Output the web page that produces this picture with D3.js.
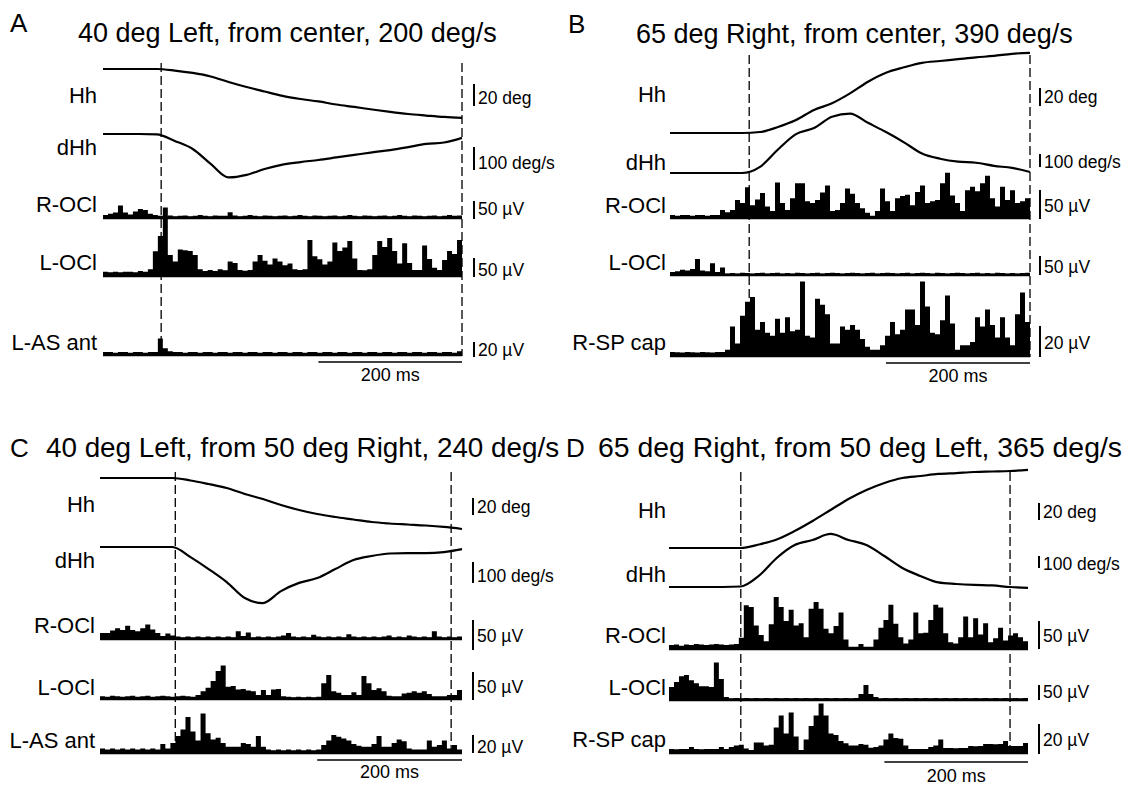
<!DOCTYPE html>
<html>
<head>
<meta charset="utf-8">
<script src="https://cdn.jsdelivr.net/npm/d3@7"></script>
<style>
  body { margin: 0; background: #fff; }
  text { font-family: "Liberation Sans", Arial, Helvetica, sans-serif; fill: #000; }
</style>
</head>
<body>
<svg id="chart" width="1134" height="787"></svg>
<script>
// sample times of the head traces (ms)
var headTimes = [0, 25, 50, 75, 100, 125, 150, 175, 200, 225, 250, 275, 300, 325, 350, 375, 400, 425, 450, 475, 500];

var panelLetters = ["A", "B", "C", "D"];
var panelTitles = [
    "40 deg Left, from center, 200 deg/s",
    "65 deg Right, from center, 390 deg/s",
    "40 deg Left, from 50 deg Right, 240 deg/s",
    "65 deg Right, from 50 deg Left, 365 deg/s"
];
var rowLabels = [
    ["Hh", "dHh", "R-OCl", "L-OCl", "L-AS ant"],
    ["Hh", "dHh", "R-OCl", "L-OCl", "R-SP cap"],
    ["Hh", "dHh", "R-OCl", "L-OCl", "L-AS ant"],
    ["Hh", "dHh", "R-OCl", "L-OCl", "R-SP cap"]
];
var scaleValues = [20, 100, 50, 50, 20];
var scaleUnits = ["20 deg", "100 deg/s", "50 \u00b5V", "50 \u00b5V", "20 \u00b5V"];
var timeBarMs = [300, 500];
var timeBarLabel = "200 ms";

// movement onset / end markers (ms)
var onsetMs = [81, 110, 104, 100];
var offsetMs = [500, 500, 485, 475];

// head position (deg) and velocity (deg/s)
var hhA = [0, 0, 0, 0, -1.4, -3.6, -6.8, -11.8, -16.4, -20.5, -24.5, -27.3, -29.5, -32.3, -34.5, -36.8, -39, -40.9, -42.3, -43.6, -44.5];
var dhhA = [0, 0, 0, -2, -30, -65, -130, -189, -178, -152, -133, -122, -113, -102, -91, -80, -70, -57, -43, -37, -17];
var hhB = [0, 0, 0, 0, 0, 1.1, 6.7, 14.4, 25.6, 33, 44, 57, 67, 73, 78, 80, 82, 84, 85.6, 88, 89];
var dhhB = [0, 0, 0, 0, 0, 47, 181, 299, 346, 433, 457, 386, 315, 236, 150, 110, 87, 79, 55, 39, 8];
var hhC = [0, 0, 0, 0, 0, -2.9, -7.1, -11.8, -18.8, -24.7, -31.8, -37.6, -42.4, -45.9, -48.8, -51.8, -53.5, -54.7, -55.9, -57.6, -60];
var dhhC = [0, 0, 0, 0, 0, -48, -105, -167, -243, -267, -210, -171, -148, -105, -62, -43, -31, -29, -29, -24, -10];
var hhD = [0, 0, 0, 0, 0, 4.1, 10, 20, 31.8, 44.7, 57.6, 68.2, 76.5, 82.4, 84.7, 87.1, 88.2, 89.4, 90, 90.6, 91.8];
var dhhD = [0, 0, 0, 0, 4, 92, 242, 350, 392, 442, 392, 350, 258, 158, 92, 38, 25, 17, 13, 0, -8];

// rectified EMG, bins over 0-500 ms (uV)
var rOclA = [8, 12, 15, 35, 15, 10, 18, 25, 22, 12, 8, 6,
    5, 7, 5, 6, 7, 5, 6, 8, 6, 5, 7, 6, 6, 16, 7, 5, 6, 8,
    6, 5, 7, 6, 5, 6, 7, 5, 6, 8, 6, 5, 7, 6, 5, 6, 7, 5,
    6, 8, 6, 5, 7, 6, 5, 6, 7, 5, 6, 8, 6, 5, 7, 6, 5, 6,
    7, 5, 6, 8, 6, 7];
var lOclA = [11, 10, 11, 10, 11, 11, 10, 13, 11, 18,
    65, 105, 180, 55, 38, 70, 68, 66, 55, 18,
    13, 16, 13, 18, 15, 38, 34, 16, 14, 16,
    38, 55, 40, 30, 46, 38, 28, 33, 18, 16,
    18, 95, 52, 44, 30, 38, 88, 66, 75, 92,
    46, 16, 15, 18, 55, 92, 76, 100, 66, 33,
    86, 34, 16, 16, 80, 45, 22, 16, 42, 66,
    58, 95];
var lAsA = [4, 4, 3, 4, 4, 3, 4, 4, 3, 4, 4, 22,
    9, 5, 4, 4, 3, 4, 4, 3, 4, 4, 3, 4,
    4, 3, 4, 4, 3, 4, 4, 3, 4, 4, 3, 4,
    4, 3, 4, 4, 3, 4, 4, 3, 4, 4, 3, 4,
    4, 3, 4, 4, 3, 4, 4, 3, 4, 4, 3, 4,
    4, 3, 4, 4, 3, 4, 4, 3, 4, 4, 3, 5];

var rOclB = [5, 4, 5, 5, 4, 5, 5, 4, 5, 5,
    14, 10, 14, 31, 26, 53, 22, 32, 43, 20,
    12, 61, 26, 14, 34, 60, 60, 29, 26, 31,
    44, 56, 12, 14, 26, 51, 42, 26, 17, 9,
    4, 12, 51, 29, 12, 34, 38, 40, 22, 45,
    56, 26, 29, 31, 60, 78, 39, 26, 12, 48,
    54, 46, 60, 73, 34, 20, 54, 31, 48, 26,
    29, 34];
var lOclB = [8, 10, 14, 12, 16, 42, 12, 10, 31, 8,
    20, 4, 5, 4, 6, 5, 4, 5, 6, 4,
    5, 6, 4, 5, 4, 6, 5, 4, 5, 6,
    4, 5, 6, 5, 4, 5, 6, 5, 4, 5,
    6, 4, 5, 6, 5, 4, 5, 6, 4, 5,
    6, 5, 4, 6, 5, 4, 5, 6, 5, 4,
    5, 6, 4, 5, 4, 6, 5, 4, 5, 4,
    5, 6];
var rSpB = [2.6, 2.5, 2.2, 2.6, 2.4, 2.2, 2.6, 2.5, 2.3, 2.6,
    2.6, 4, 19, 8, 26, 35, 38, 17, 22, 15,
    13, 24, 15, 25, 16, 17, 48, 13, 12, 37,
    33, 27, 8, 8, 19, 17, 20, 17, 11, 6,
    4, 4, 7, 13, 22, 14, 17, 30, 30, 20,
    48, 32, 15, 14, 23, 39, 21, 4, 7, 7,
    9, 25, 19, 30, 20, 12, 25, 12, 7, 27,
    41, 22];

var rOclC = [10, 10, 14, 18, 15, 22, 15, 13, 18, 24,
    16, 10, 5, 9, 6, 4, 3, 4, 3, 4,
    3, 4, 3, 4, 3, 4, 3, 13, 5, 11,
    3, 4, 3, 4, 3, 4, 6, 10, 4, 3,
    4, 3, 7, 4, 3, 4, 3, 4, 3, 8,
    4, 3, 4, 3, 4, 3, 4, 6, 3, 4,
    3, 6, 4, 3, 4, 3, 13, 4, 3, 4,
    3, 4];
var lOclC = [5, 4, 6, 5, 4, 5, 6, 4, 5, 6,
    4, 5, 6, 5, 4, 5, 6, 5, 4, 7,
    14, 20, 32, 50, 60, 22, 23, 17, 18, 15,
    14, 7, 16, 7, 17, 18, 5, 4, 3, 4,
    3, 4, 3, 4, 28, 43, 14, 11, 7, 7,
    12, 7, 41, 28, 16, 19, 14, 6, 5, 5,
    10, 11, 14, 11, 14, 9, 5, 5, 5, 7,
    7, 16];
var lAsC = [5, 4, 5, 4, 5, 4, 5, 4, 5, 4,
    5, 4, 10, 5, 11, 19, 26, 40, 24, 14,
    44, 22, 15, 17, 11, 7, 7, 7, 11, 10,
    7, 19, 7, 4, 3, 4, 3, 4, 3, 4,
    3, 4, 3, 4, 9, 14, 20, 18, 16, 14,
    10, 8, 7, 7, 10, 19, 7, 7, 11, 15,
    13, 5, 4, 4, 4, 14, 7, 9, 14, 5,
    9, 4];

var rOclD = [7, 8, 6, 8, 7, 9, 8, 7, 8, 9,
    8, 7, 8, 9, 20, 78, 75, 42, 25, 14,
    44, 93, 75, 50, 70, 42, 46, 21, 72, 84,
    72, 36, 28, 41, 65, 17, 4, 4, 9, 4,
    4, 17, 38, 52, 79, 45, 21, 10, 17, 65,
    28, 29, 52, 79, 74, 28, 12, 10, 21, 58,
    21, 55, 26, 46, 12, 19, 38, 15, 24, 28,
    21, 14];
var lOclD = [43, 60, 79, 83, 66, 56, 46, 46, 43, 125,
    70, 10, 6, 7, 6, 7, 6, 7, 6, 7,
    6, 7, 6, 7, 6, 7, 6, 7, 6, 7,
    6, 7, 6, 7, 6, 7, 6, 7, 20, 50,
    20, 10, 6, 7, 6, 7, 6, 7, 6, 7,
    6, 7, 6, 7, 6, 7, 6, 7, 6, 7,
    6, 7, 6, 7, 6, 7, 6, 7, 6, 7,
    6, 7];
var rSpD = [2.7, 2.5, 2.7, 2.6, 4, 2.7, 2.5, 2.7, 2.6, 2.7,
    4, 2.6, 4, 5, 5.5, 3, 2, 7, 7, 5,
    5.5, 17, 25, 13, 27, 11, 2, 9, 18, 25,
    33, 25, 13, 12, 8, 6.5, 5, 5, 6, 5.5,
    3.5, 4, 5, 9, 13, 10, 9.5, 5, 2.7, 2.6,
    2.7, 2.6, 4, 5, 9, 3.4, 3.4, 3.2, 3.4, 3.3,
    4.7, 4.5, 4.7, 6, 6, 5.8, 6, 8, 4.7, 4.6,
    4.7, 6.7];

var panelData = [
    [hhA, dhhA, rOclA, lOclA, lAsA],
    [hhB, dhhB, rOclB, lOclB, rSpB],
    [hhC, dhhC, rOclC, lOclC, lAsC],
    [hhD, dhhD, rOclD, lOclD, rSpD]
];

// page layout of each panel (pixels)
var layout = [
    { x0: 103, x1: 462, barX: 474, labelX: 97, letterX: 10, letterY: 32, titleX: 78, titleY: 42, titleSize: 27,
      dashTop: 63, dashBottom: 356,
      base: [69, 134, 218, 276, 355], unit: [22, 23, 18, 19, 15], barBottom: [106, 170, 219, 277, 357],
      labelY: [103, 155, 212, 270, 350], unitY: [104, 169, 215, 276, 356], timeY: 362, timeLabelY: 381 },
    { x0: 670, x1: 1030, barX: 1040, labelX: 666, letterX: 568, letterY: 33, titleX: 636, titleY: 43, titleSize: 27,
      dashTop: 55, dashBottom: 357,
      base: [133, 173, 218, 275, 356], unit: [18, 13, 29, 19, 31], barBottom: [106, 167, 219, 275, 357],
      labelY: [102, 170, 213, 270, 350], unitY: [103, 168, 212, 273, 349], timeY: 363, timeLabelY: 382 },
    { x0: 100, x1: 462, barX: 473, labelX: 95, letterX: 10, letterY: 457, titleX: 46, titleY: 457, titleSize: 27.8,
      dashTop: 472, dashBottom: 754,
      base: [478, 547, 639, 699, 753], unit: [17, 21, 30, 28, 18], barBottom: [515, 583, 650, 700, 753],
      labelY: [512, 568, 633, 695, 748], unitY: [513, 582, 642, 693, 753], timeY: 760, timeLabelY: 778 },
    { x0: 669, x1: 1028, barX: 1039, labelX: 666, letterX: 566, letterY: 457, titleX: 598, titleY: 457, titleSize: 28.4,
      dashTop: 472, dashBottom: 754,
      base: [548, 587, 649, 700, 753], unit: [17, 12, 28, 15, 30], barBottom: [520, 568, 649, 700, 754],
      labelY: [518, 582, 643, 695, 747], unitY: [518, 570, 642, 698, 746], timeY: 762, timeLabelY: 782 }
];

var svg = d3.select("#chart");

function drawPanel(p, k) {
    var L = layout[k];
    var g = svg.append("g");
    var x = d3.scaleLinear().domain([0, 500]).range([L.x0, L.x1]);

    g.append("text").attr("x", L.letterX).attr("y", L.letterY)
        .style("font-size", "26px").text(panelLetters[k]);
    g.append("text").attr("x", L.titleX).attr("y", L.titleY)
        .style("font-size", L.titleSize + "px").text(panelTitles[k]);

    panelData[k].forEach(function (values, r) {
        var y = d3.scaleLinear().domain([0, scaleValues[r]])
            .range([L.base[r], L.base[r] - L.unit[r]]);

        if (r < 2) {
            var line = d3.line()
                .x(function (d, i) { return x(headTimes[i]); })
                .y(function (d) { return y(d); })
                .curve(d3.curveMonotoneX);
            g.append("path").datum(values).attr("d", line)
                .attr("fill", "none").attr("stroke", "#000").attr("stroke-width", 2.2);
        } else {
            var bw = 500 / values.length;
            var pts = values.map(function (v, i) { return { t: i * bw, v: v }; });
            pts.push({ t: 500, v: values[values.length - 1] });
            var area = d3.area()
                .x(function (d) { return x(d.t); })
                .y0(y(0))
                .y1(function (d) { return y(d.v); })
                .curve(d3.curveStepAfter);
            g.append("path").datum(pts).attr("d", area).attr("fill", "#000");
            g.append("line").attr("x1", x(0)).attr("x2", x(500))
                .attr("y1", y(0)).attr("y2", y(0))
                .attr("stroke", "#000").attr("stroke-width", 2.5);
        }

        g.append("text").attr("x", L.labelX).attr("y", L.labelY[r])
            .attr("text-anchor", "end").style("font-size", "22px")
            .text(rowLabels[k][r]);

        g.append("line").attr("x1", L.barX).attr("x2", L.barX)
            .attr("y1", L.barBottom[r]).attr("y2", L.barBottom[r] - (y(0) - y(scaleValues[r])))
            .attr("stroke", "#000").attr("stroke-width", 2);
        g.append("text").attr("x", L.barX + 4).attr("y", L.unitY[r])
            .style("font-size", "17.5px").text(scaleUnits[r]);
    });

    [onsetMs[k], offsetMs[k]].forEach(function (t) {
        g.append("line").attr("x1", x(t)).attr("x2", x(t))
            .attr("y1", L.dashTop).attr("y2", L.dashBottom)
            .attr("stroke", "#000").attr("stroke-width", 1.3)
            .attr("stroke-dasharray", "9,4");
    });

    g.append("line").attr("x1", x(timeBarMs[0])).attr("x2", x(timeBarMs[1]))
        .attr("y1", L.timeY).attr("y2", L.timeY)
        .attr("stroke", "#000").attr("stroke-width", 1.5);
    g.append("text").attr("x", (x(timeBarMs[0]) + x(timeBarMs[1])) / 2).attr("y", L.timeLabelY)
        .attr("text-anchor", "middle").style("font-size", "18px").text(timeBarLabel);
}

panelData.forEach(drawPanel);
</script>
</body>
</html>
